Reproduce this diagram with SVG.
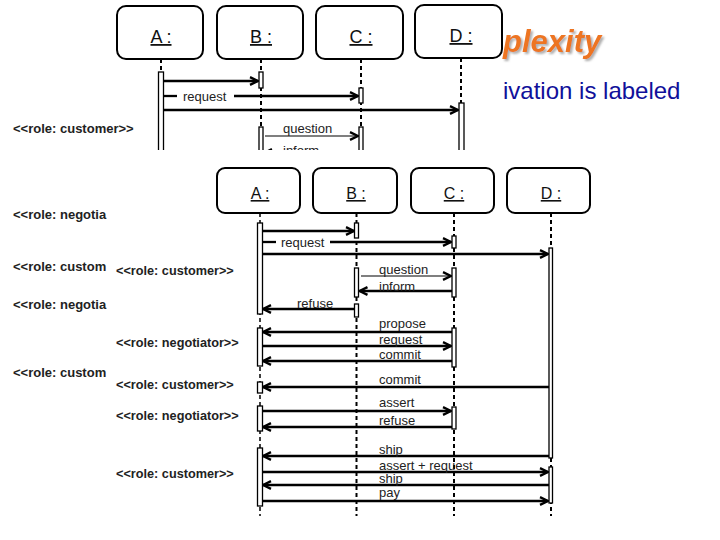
<svg xmlns="http://www.w3.org/2000/svg" width="720" height="540" viewBox="0 0 720 540">
<style>
.box{fill:#fff;stroke:#000;stroke-width:2}
.ttl{font-family:"Liberation Sans",Arial,sans-serif;fill:#111;text-anchor:middle;text-decoration:underline}
.life{stroke:#000;stroke-width:2;stroke-dasharray:4 3;fill:none}
.act{fill:#fff;stroke:#000;stroke-width:1.3}
.msg{stroke:#000;stroke-width:2.3;fill:none;marker-end:url(#ah)}
.plain{stroke:#000;stroke-width:2.3;fill:none}
.thin{stroke:#000;stroke-width:1.2;fill:none;marker-end:url(#ah)}
.lbl{font-family:"Liberation Sans",Arial,sans-serif;font-size:13px;fill:#222}
.role{font-family:"Liberation Sans",Arial,sans-serif;font-weight:bold;fill:#222}
</style>
<defs>
<marker id="ah" markerUnits="userSpaceOnUse" viewBox="0 0 10 10" refX="9" refY="5" markerWidth="10" markerHeight="10" orient="auto"><path d="M1,1.2 L9,5 L1,8.8" fill="none" stroke="#000" stroke-width="2.4"/></marker>
<clipPath id="topclip"><rect x="0" y="0" width="720" height="150"/></clipPath>
<filter id="sh" x="-10%" y="-20%" width="130%" height="150%"><feDropShadow dx="2" dy="2" stdDeviation="0.8" flood-color="#999" flood-opacity="0.8"/></filter>
</defs>
<rect width="720" height="540" fill="#fff"/>

<!-- slide texts -->
<text x="503" y="52" font-family="Liberation Sans,Arial,sans-serif" font-size="31" font-weight="bold" font-style="italic" fill="#ED7420" filter="url(#sh)">plexity</text>
<text x="503" y="99" font-family="Liberation Sans,Arial,sans-serif" font-size="24" fill="#10109A">ivation is labeled</text>

<!-- background left role labels -->
<g class="role" font-size="13">
<text x="13" y="133">&lt;&lt;role: customer&gt;&gt;</text>
<text x="13" y="219">&lt;&lt;role: negotia</text>
<text x="13" y="271">&lt;&lt;role: custom</text>
<text x="13" y="309">&lt;&lt;role: negotia</text>
<text x="13" y="377">&lt;&lt;role: custom</text>
</g>

<!-- top (background) sequence diagram -->
<g id="top-diagram" clip-path="url(#topclip)">
<g id="topA"><rect class="box" x="117" y="6" width="86" height="53" rx="9"/><text class="ttl" x="161" y="43" font-size="18">A :</text><line class="life" x1="161" y1="59" x2="161" y2="150"/><rect class="act" x="158.5" y="72" width="5" height="90"/></g>
<g id="topB"><rect class="box" x="217" y="6" width="86" height="53" rx="9"/><text class="ttl" x="261" y="43" font-size="18">B :</text><line class="life" x1="261" y1="59" x2="261" y2="150"/><rect class="act" x="259" y="72" width="4" height="16"/><rect class="act" x="259" y="127" width="4" height="35"/></g>
<g id="topC"><rect class="box" x="316" y="6" width="87" height="53" rx="9"/><text class="ttl" x="361" y="43" font-size="18">C :</text><line class="life" x1="361" y1="59" x2="361" y2="150"/><rect class="act" x="359" y="88" width="4" height="15"/><rect class="act" x="359" y="127" width="4" height="35"/></g>
<g id="topD"><rect class="box" x="415" y="5" width="87" height="53" rx="9"/><text class="ttl" x="461" y="42" font-size="18">D :</text><line class="life" x1="461" y1="58" x2="461" y2="150"/><rect class="act" x="459" y="103" width="5" height="60"/></g>
<g id="top-connectors">
<line class="msg" x1="163.5" y1="81" x2="258" y2="81"/>
<line class="plain" x1="163.5" y1="96" x2="177" y2="96"/>
<line class="msg" x1="234" y1="96" x2="358" y2="96"/>
<line class="msg" x1="163.5" y1="110" x2="458" y2="110"/>
<line class="thin" x1="265" y1="136" x2="358" y2="136"/>
<line class="msg" x1="359" y1="153" x2="264" y2="153"/>
</g>
<g class="lbl" font-size="13.5">
<text x="183" y="100.5">request</text>
<text x="283" y="133">question</text>
<text x="283" y="155">inform</text>
</g>
</g>

<!-- foreground (overlay) sequence diagram -->
<g id="fg-diagram">
<g id="A"><rect class="box" x="217" y="168" width="83" height="45" rx="8"/><text class="ttl" x="260" y="199" font-size="16">A :</text><line class="life" style="stroke-width:1.5" x1="260" y1="213" x2="260" y2="516"/>
<rect class="act" x="257.5" y="223" width="5" height="91"/><rect class="act" x="257.5" y="328" width="5" height="38"/><rect class="act" x="257.5" y="382" width="5" height="11"/><rect class="act" x="257.5" y="406" width="5" height="25"/><rect class="act" x="257.5" y="448" width="5" height="58"/></g>
<g id="B"><rect class="box" x="313" y="168" width="84" height="45" rx="8"/><text class="ttl" x="356" y="199" font-size="16">B :</text><line class="life" x1="356.5" y1="213" x2="356.5" y2="516"/>
<rect class="act" x="354.5" y="223" width="4" height="15"/><rect class="act" x="354.5" y="268" width="4" height="29"/><rect class="act" x="354.5" y="304" width="4" height="13"/></g>
<g id="C"><rect class="box" x="411" y="168" width="83" height="45" rx="8"/><text class="ttl" x="454" y="199" font-size="16">C :</text><line class="life" x1="454" y1="213" x2="454" y2="516"/>
<rect class="act" x="452" y="236" width="4" height="12"/><rect class="act" x="452" y="268" width="4" height="29"/><rect class="act" x="452" y="328" width="4" height="39"/><rect class="act" x="452" y="407" width="4" height="22"/></g>
<g id="D"><rect class="box" x="507" y="168" width="83" height="45" rx="8"/><text class="ttl" x="551" y="199" font-size="16">D :</text><line class="life" x1="551" y1="213" x2="551" y2="516"/>
<rect class="act" x="549" y="248" width="3.5" height="210"/><rect class="act" x="549" y="467" width="3.5" height="36"/></g>

<g id="connectors">
<line class="msg" x1="262.5" y1="231" x2="354" y2="231"/>
<line class="plain" x1="262.5" y1="242" x2="276" y2="242"/>
<line class="msg" x1="330" y1="242" x2="451" y2="242"/>
<line class="msg" x1="262.5" y1="254" x2="548" y2="254"/>
<line class="thin" x1="361" y1="276" x2="451" y2="276"/>
<line class="msg" x1="452" y1="291" x2="359.5" y2="291"/>
<line class="msg" x1="354.5" y1="309" x2="263" y2="309"/>
<line class="msg" x1="452" y1="332" x2="263" y2="332"/>
<line class="msg" x1="262.5" y1="346" x2="451" y2="346"/>
<line class="msg" x1="452" y1="361" x2="263" y2="361"/>
<line class="msg" x1="549" y1="387" x2="263" y2="387"/>
<line class="msg" x1="262.5" y1="411" x2="451" y2="411"/>
<line class="msg" x1="452" y1="427" x2="263" y2="427"/>
<line class="msg" x1="549" y1="456" x2="263" y2="456"/>
<line class="msg" x1="262.5" y1="472" x2="548" y2="472"/>
<line class="msg" x1="549" y1="485" x2="263" y2="485"/>
<line class="msg" x1="262.5" y1="501" x2="548" y2="501"/>
</g>

<g class="lbl">
<text x="281" y="246.5">request</text>
<text x="379" y="274">question</text>
<text x="379" y="291">inform</text>
<text x="297" y="308">refuse</text>
<text x="379" y="328">propose</text>
<text x="379" y="344">request</text>
<text x="379" y="359">commit</text>
<text x="379" y="384">commit</text>
<text x="379" y="407">assert</text>
<text x="379" y="425">refuse</text>
<text x="379" y="454">ship</text>
<text x="379" y="470">assert + request</text>
<text x="379" y="483">ship</text>
<text x="379" y="497">pay</text>
</g>

<g class="role" font-size="12.7">
<text x="116" y="275">&lt;&lt;role: customer&gt;&gt;</text>
<text x="116" y="347">&lt;&lt;role: negotiator&gt;&gt;</text>
<text x="116" y="389">&lt;&lt;role: customer&gt;&gt;</text>
<text x="116" y="420">&lt;&lt;role: negotiator&gt;&gt;</text>
<text x="116" y="478">&lt;&lt;role: customer&gt;&gt;</text>
</g>
</g>
</svg>
